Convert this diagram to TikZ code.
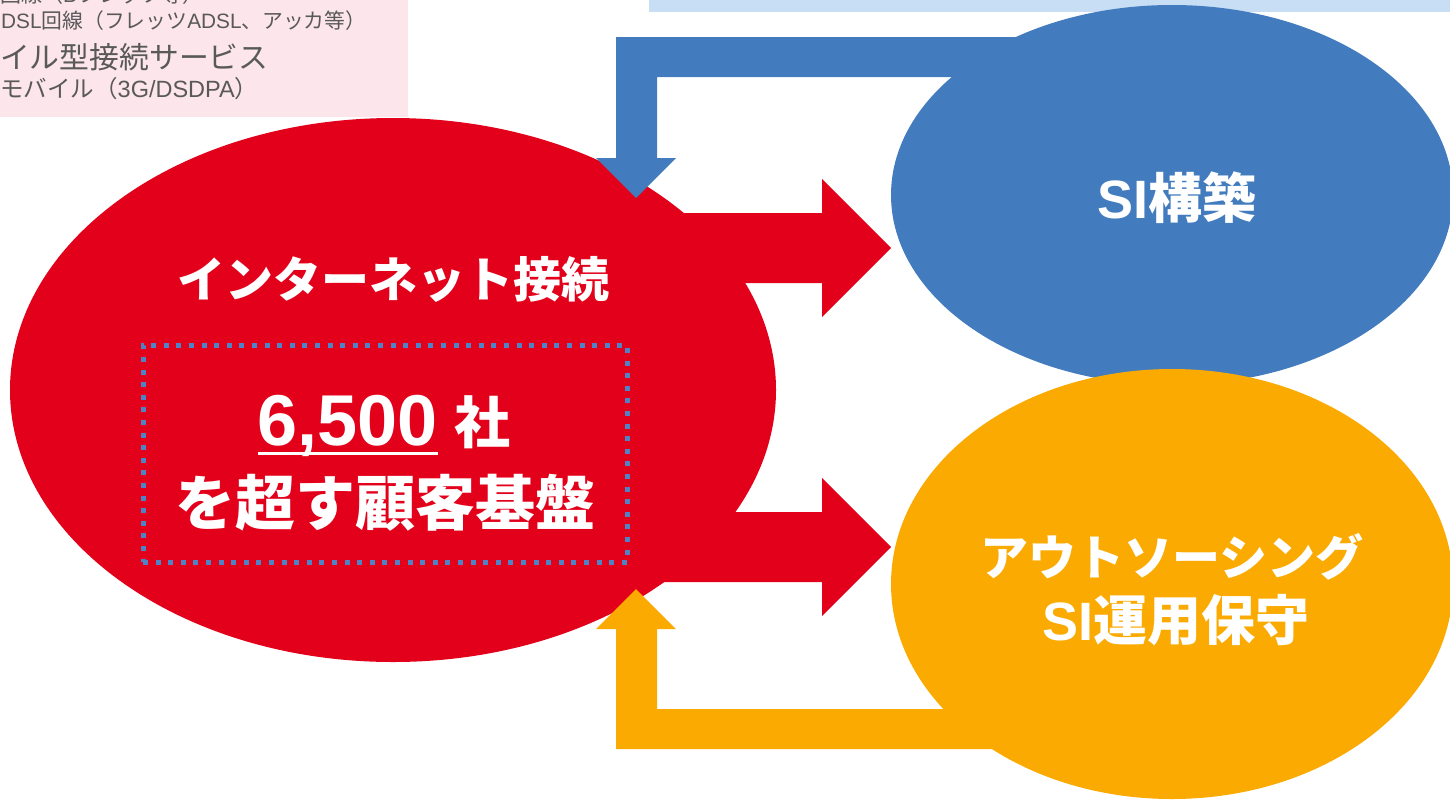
\documentclass[tikz,border=0pt]{standalone}
\usepackage{fontspec}
\setmainfont{Liberation Sans}
\newfontfamily\jp{Noto Sans CJK JP}
\definecolor{redc}{HTML}{E3001B}
\definecolor{bluec}{HTML}{427CBE}
\definecolor{orangec}{HTML}{FAAA00}
\definecolor{dotblue}{HTML}{4F83C8}
\definecolor{pinkbg}{HTML}{FCE5EB}
\definecolor{bluebg}{HTML}{C8DEF4}
\definecolor{graytxt}{HTML}{595959}
\tikzset{
  blob/.style={ellipse, inner sep=0pt},
  whitetxt/.style={text=white, inner sep=0pt, align=center},
  graytext/.style={text=graytxt, inner sep=0pt, anchor=west},
}
\usetikzlibrary{shapes.geometric}
\begin{document}
\begin{tikzpicture}[x=1pt,y=-1pt]
\useasboundingbox (0,0) rectangle (1450,801);
\clip (0,0) rectangle (1450,801);
% background boxes
\fill[pinkbg] (0,0) rectangle (408,117);
\fill[bluebg] (649,0) rectangle (1450,12);
\begin{scope}
\clip (0,0) rectangle (408,117);
\node[graytext, font=\fontsize{21}{23}\selectfont] (l1) at (0,-5) {{\jp 回線（}B{\jp フレッツ等）}};
\node[graytext, font=\fontsize{20.8}{23}\selectfont] (l2) at (1,21) {DSL{\jp 回線（フレッツ}ADSL{\jp 、アッカ等）}};
\node[graytext, font=\jp\fontsize{29.8}{31}\selectfont] (l3) at (0,57) {イル型接続サービス};
\node[graytext, font=\fontsize{23.5}{25}\selectfont] (l4) at (0,89) {{\jp モバイル（}3G/DSDPA{\jp ）}};
\end{scope}
% red ellipse and arrows
\node[blob, fill=redc, minimum width=766, minimum height=544] (inet) at (393,390) {};
\fill[redc] (600,213) -- (822,213) -- (822,179) -- (891,248) -- (822,317) -- (822,283) -- (600,283) -- cycle;
\fill[redc] (600,512) -- (822,512) -- (822,478) -- (891,547) -- (822,616) -- (822,582) -- (600,582) -- cycle;
% feedback arrows
\fill[bluec] (1100,37) -- (616,37) -- (616,158) -- (596,158) -- (636,198) -- (676,158) -- (657,158) -- (657,77) -- (1100,77) -- cycle;
\fill[orangec] (1100,749) -- (616,749) -- (616,629) -- (596,629) -- (636,589) -- (676,629) -- (657,629) -- (657,709) -- (1100,709) -- cycle;
% right ellipses
\node[blob, fill=bluec, minimum width=562, minimum height=380] (si) at (1172,195) {};
\node[blob, fill=orangec, minimum width=562, minimum height=430] (out) at (1172,584) {};
% texts
\node[whitetxt, font=\jp\bfseries\fontsize{48}{52}\selectfont] (t1) at (393,279) {インターネット接続};
\node[draw=dotblue, line width=5pt, dash pattern=on 5pt off 7.6pt, minimum width=484, minimum height=217, inner sep=0pt] (box) at (385,453.5) {};
\node[whitetxt, anchor=base east, font=\bfseries\fontsize{72}{76}\selectfont] (num) at (438,445) {{\setbox0\hbox{6,500}\rlap{\vrule width\wd0 height -7pt depth 10pt}\box0}};
\node[whitetxt, anchor=base west, font=\jp\bfseries\fontsize{56}{60}\selectfont] (sha) at (454,443) {社};
\node[whitetxt, font=\jp\bfseries\fontsize{60}{64}\selectfont] (t2) at (385,503) {を超す顧客基盤};
\node[whitetxt, font=\fontsize{54}{58}\selectfont] (t3) at (1177,198) {\bfseries SI{\jp 構築}};
\node[whitetxt, font=\jp\bfseries\fontsize{48}{52}\selectfont] (t4) at (1172,557) {アウトソーシング};
\node[whitetxt, font=\fontsize{54}{58}\selectfont] (t5) at (1176,620) {\bfseries SI{\jp 運用保守}};
\end{tikzpicture}
\end{document}
